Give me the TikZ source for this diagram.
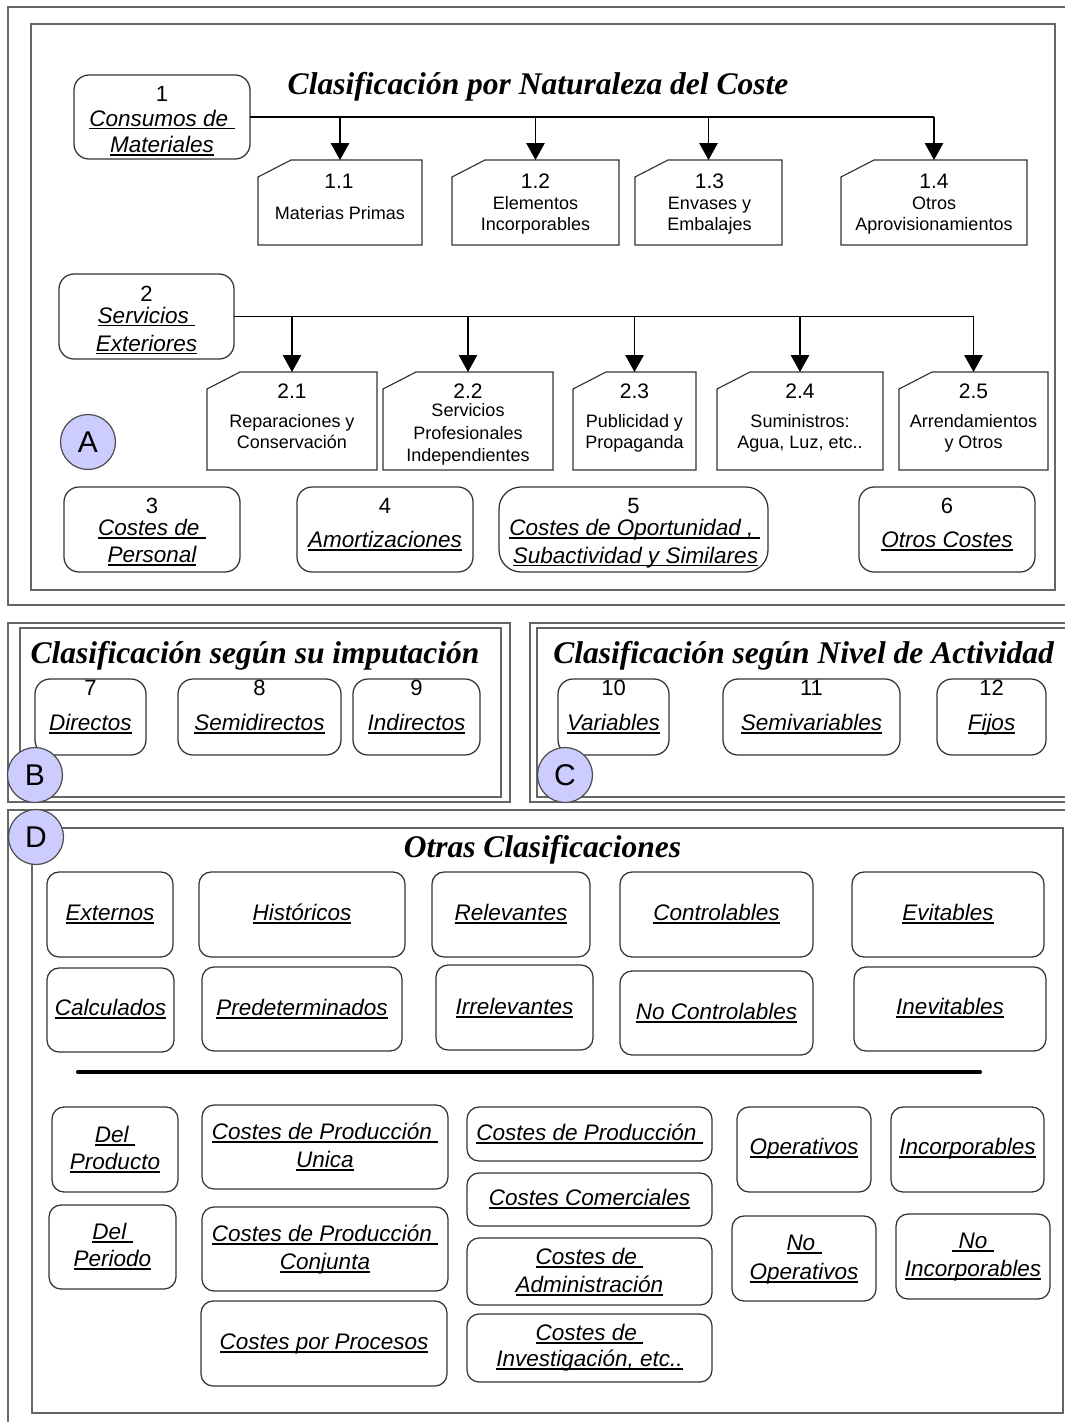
\documentclass[tikz,border=0pt]{standalone}
\usepackage{fontspec}
\setmainfont{Liberation Sans}
\newfontfamily\tnr{Liberation Serif}
\usetikzlibrary{arrows.meta}
\definecolor{lav}{HTML}{CCCCFF}
\newcommand\ulx[1]{\leavevmode\setbox0\hbox{#1}\rlap{\rule[-3.4pt]{\wd0}{1.7pt}}\box0}
% box from corners: style, name, x1, y1, x2, y2
\newcommand\bx[6]{\node[#1, minimum width={#5-#3}, minimum height={#6-#4}] (#2) at ({(#3+#5)/2},{(#4+#6)/2}) {};}
\newcommand\card[5]{\bx{cardn}{#1}{#2}{#3}{#4}{#5}%
  \draw[cardl] (#1.north west) ++(0,17) -- ++(33,-17) -- (#1.north east) -- (#1.south east) -- (#1.south west) -- cycle;}
% text line: style, name, x, baseline y, text
\newcommand\tx[5]{\node[#1, anchor=base] (#2) at (#3,#4) {#5};}
\begin{document}
\begin{tikzpicture}[x=1pt,y=-1pt,
 frm/.style={draw=black!60, line width=1.4pt},
 rb/.style={draw=black!80, line width=1.25pt, rounded corners=15pt, inner sep=0pt, outer sep=0pt},
 rd/.style={rb, rounded corners=12pt},
 cardn/.style={inner sep=0pt, outer sep=0pt},
 cardl/.style={draw=black!80, line width=1.15pt},
 ln/.style={draw=black, line width=1.2pt},
 arr/.style={ln, -{Triangle[width=18.5pt,length=17pt]}},
 lab/.style={font=\fontsize{22.5}{26}\selectfont\itshape, inner sep=0pt},
 num/.style={font=\fontsize{22}{26}\selectfont, inner sep=0pt},
 cnum/.style={font=\fontsize{21}{24}\selectfont, inner sep=0pt},
 desc/.style={font=\fontsize{18}{21}\selectfont, inner sep=0pt},
 ttl/.style={font=\fontsize{31.5}{36}\selectfont\tnr\bfseries\itshape, inner sep=0pt},
 circ/.style={circle, draw=black!70, line width=1.2pt, fill=lav, minimum size=55pt, inner sep=0pt, font=\fontsize{30}{34}\selectfont},
]
\useasboundingbox (0,0) rectangle (1065,1422);
\fill[white] (0,0) rectangle (1065,1422);

% ---------------- Frames
\draw[frm] (8,7) rectangle (1085,605);
\draw[frm] (31,24) rectangle (1055,590);
\draw[frm] (8,623) rectangle (510,802);
\draw[frm] (20,628) rectangle (501,797);
\draw[frm] (530,623) rectangle (1085,802);
\draw[frm] (537,628) rectangle (1085,797);
\draw[frm] (8,810) rectangle (1085,1435);
\draw[frm] (32,828) rectangle (1063,1413);

% ---------------- Section A
\tx{ttl}{tA}{538}{94}{Clasificación por Naturaleza del Coste}
\bx{rb}{b1}{74}{75}{250}{159}
\bx{rb}{b2}{59}{274}{234}{359}
\card{c11}{258}{160}{422}{245}
\card{c12}{452}{160}{619}{245}
\card{c13}{635}{160}{782}{245}
\card{c14}{841}{160}{1027}{245}
\card{c21}{207}{372}{377}{470}
\card{c22}{383}{372}{553}{470}
\card{c23}{573}{372}{696}{470}
\card{c24}{717}{372}{883}{470}
\card{c25}{899}{372}{1048}{470}
\bx{rb}{b3}{64}{487}{240}{572}
\bx{rb}{b4}{297}{487}{473}{572}
\bx{rb,rounded corners=22pt}{b5}{499}{487}{768}{572}
\bx{rb}{b6}{859}{487}{1035}{572}

\draw[ln] (b1.east) -- (b1.east -| c14.north);
\foreach \c in {c11,c12,c13,c14} \draw[arr] (b1.east -| \c.north) -- (\c.north);
\draw[ln] (b2.east) -- (b2.east -| c25.north);
\foreach \c in {c21,c22,c23,c24,c25} \draw[arr] (b2.east -| \c.north) -- (\c.north);

\tx{num}{t1a}{162}{101}{1}
\tx{lab}{t1b}{162}{126}{\ulx{Consumos de\ }}
\tx{lab}{t1c}{162}{152.5}{\ulx{Materiales}}
\tx{num}{t2a}{146.5}{301}{2}
\tx{lab}{t2b}{146.5}{323}{\ulx{Servicios\ }}
\tx{lab}{t2c}{146.5}{351}{\ulx{Exteriores}}

\tx{cnum}{t11a}{339}{188}{1.1}
\tx{desc}{t11b}{340}{219.5}{Materias Primas}
\tx{cnum}{t12a}{535.5}{188}{1.2}
\tx{desc}{t12b}{535.5}{209}{Elementos}
\tx{desc}{t12c}{535.5}{230.5}{Incorporables}
\tx{cnum}{t13a}{709.5}{188}{1.3}
\tx{desc}{t13b}{709.5}{209}{Envases y}
\tx{desc}{t13c}{709.5}{230.5}{Embalajes}
\tx{cnum}{t14a}{934}{188}{1.4}
\tx{desc}{t14b}{934}{209}{Otros}
\tx{desc}{t14c}{934}{230.5}{Aprovisionamientos}

\tx{cnum}{t21a}{292}{398.5}{2.1}
\tx{desc}{t21b}{292}{427.5}{Reparaciones y}
\tx{desc}{t21c}{292}{448.5}{Conservación}
\tx{cnum}{t22a}{468}{398.5}{2.2}
\tx{desc}{t22b}{468}{416.5}{Servicios}
\tx{desc}{t22c}{468}{439.5}{Profesionales}
\tx{desc}{t22d}{468}{461.5}{Independientes}
\tx{cnum}{t23a}{634.5}{398.5}{2.3}
\tx{desc}{t23b}{634.5}{427.5}{Publicidad y}
\tx{desc}{t23c}{634.5}{448.5}{Propaganda}
\tx{cnum}{t24a}{800}{398.5}{2.4}
\tx{desc}{t24b}{800}{427.5}{Suministros:}
\tx{desc}{t24c}{800}{448.5}{Agua, Luz, etc..}
\tx{cnum}{t25a}{973.5}{398.5}{2.5}
\tx{desc}{t25b}{973.5}{427.5}{Arrendamientos}
\tx{desc}{t25c}{973.5}{448.5}{y Otros}

\tx{num}{t3a}{152}{513.5}{3}
\tx{lab}{t3b}{152}{535.5}{\ulx{Costes de\ }}
\tx{lab}{t3c}{152}{562.5}{\ulx{Personal}}
\tx{num}{t4a}{385}{513.5}{4}
\tx{lab}{t4b}{385}{547.5}{\ulx{Amortizaciones}}
\tx{num}{t5a}{633.5}{513.5}{5}
\tx{lab}{t5b}{634.5}{535.5}{\ulx{Costes de Oportunidad ,\ }}
\tx{lab}{t5c}{635.5}{563}{\ulx{Subactividad y Similares}}
\tx{num}{t6a}{947}{513.5}{6}
\tx{lab}{t6b}{947}{547.5}{\ulx{Otros Costes}}

\node[circ] (cA) at (88,442) {A};

% ---------------- Section B
\tx{ttl}{tB}{255}{663}{Clasificación según su imputación}
\bx{rb}{b7}{35}{679}{146}{755}
\bx{rb}{b8}{178}{679}{341}{755}
\bx{rb}{b9}{353}{679}{480}{755}
\tx{num}{t7a}{90.5}{695.5}{7}
\tx{lab}{t7b}{90.5}{730.5}{\ulx{Directos}}
\tx{num}{t8a}{259.5}{695.5}{8}
\tx{lab}{t8b}{259.5}{730.5}{\ulx{Semidirectos}}
\tx{num}{t9a}{416.5}{695.5}{9}
\tx{lab}{t9b}{416.5}{730.5}{\ulx{Indirectos}}
\node[circ] (cB) at (35,775) {B};

% ---------------- Section C
\tx{ttl}{tC}{803.5}{663}{Clasificación según Nivel de Actividad}
\bx{rb}{b10}{558}{679}{669}{755}
\bx{rb}{b11}{723}{679}{900}{755}
\bx{rb}{b12}{937}{679}{1046}{755}
\tx{num}{t10a}{613.5}{695.5}{10}
\tx{lab}{t10b}{613.5}{730.5}{\ulx{Variables}}
\tx{num}{t11xa}{811.5}{695.5}{11}
\tx{lab}{t11xb}{811.5}{730.5}{\ulx{Semivariables}}
\tx{num}{t12xa}{991.5}{695.5}{12}
\tx{lab}{t12xb}{991.5}{730.5}{\ulx{Fijos}}
\node[circ] (cC) at (565,775) {C};

% ---------------- Section D
\tx{ttl}{tD}{542.5}{857}{Otras Clasificaciones}
\bx{rd}{dex}{47}{872}{173}{957}
\bx{rd}{dhi}{199}{872}{405}{957}
\bx{rd}{dre}{432}{872}{590}{957}
\bx{rd}{dco}{620}{872}{813}{957}
\bx{rd}{dev}{852}{872}{1044}{957}
\bx{rd}{dca}{47}{968}{174}{1052}
\bx{rd}{dpr}{202}{967}{402}{1051}
\bx{rd}{dir}{436}{965}{593}{1050}
\bx{rd}{dnc}{620}{971}{813}{1055}
\bx{rd}{din}{854}{967}{1046}{1051}
\tx{lab}{tex}{110}{920.5}{\ulx{Externos}}
\tx{lab}{thi}{302}{920.5}{\ulx{Históricos}}
\tx{lab}{tre}{511}{920.5}{\ulx{Relevantes}}
\tx{lab}{tco}{716.5}{920.5}{\ulx{Controlables}}
\tx{lab}{tev}{948}{920.5}{\ulx{Evitables}}
\tx{lab}{tca}{110.5}{1015.5}{\ulx{Calculados}}
\tx{lab}{tpr}{302}{1015.5}{\ulx{Predeterminados}}
\tx{lab}{tir}{514.5}{1014.5}{\ulx{Irrelevantes}}
\tx{lab}{tnc}{716.5}{1019.5}{\ulx{No Controlables}}
\tx{lab}{tin}{950}{1014.5}{\ulx{Inevitables}}

\coordinate (hl1) at (78,1072);
\coordinate (hl2) at (980,1072);
\draw[line width=4.2pt, line cap=round] (hl1) -- (hl2);

\bx{rd}{ddp}{52}{1107}{178}{1192}
\bx{rd}{ddpe}{49}{1205}{176}{1289}
\bx{rd}{dcpu}{202}{1105}{448}{1189}
\bx{rd}{dcpc}{202}{1207}{448}{1291}
\bx{rd}{dcpp}{201}{1301}{447}{1386}
\bx{rd}{dcp}{467}{1107}{712}{1161}
\bx{rd}{dcc}{467}{1173}{712}{1226}
\bx{rd}{dcad}{467}{1238}{712}{1305}
\bx{rd}{dcin}{467}{1314}{712}{1382}
\bx{rd}{dop}{737}{1107}{871}{1192}
\bx{rd}{dinc}{891}{1107}{1044}{1192}
\bx{rd}{dnop}{732}{1216}{876}{1301}
\bx{rd}{dninc}{896}{1214}{1050}{1299}

\tx{lab}{tdpa}{115}{1142.5}{\ulx{Del\ }}
\tx{lab}{tdpb}{115}{1169.5}{\ulx{Producto}}
\tx{lab}{tdpea}{112.5}{1239.5}{\ulx{Del\ }}
\tx{lab}{tdpeb}{112.5}{1266.5}{\ulx{Periodo}}
\tx{lab}{tcpua}{325}{1139.5}{\ulx{Costes de Producción\ }}
\tx{lab}{tcpub}{325}{1167.5}{\ulx{Unica}}
\tx{lab}{tcpca}{325}{1241.5}{\ulx{Costes de Producción\ }}
\tx{lab}{tcpcb}{325}{1269.5}{\ulx{Conjunta}}
\tx{lab}{tcpp}{324}{1349.5}{\ulx{Costes por Procesos}}
\tx{lab}{tcp}{589.5}{1140.5}{\ulx{Costes de Producción\ }}
\tx{lab}{tcc}{589.5}{1205.5}{\ulx{Costes Comerciales}}
\tx{lab}{tcada}{589.5}{1264.5}{\ulx{Costes de\ }}
\tx{lab}{tcadb}{589.5}{1292.5}{\ulx{Administración}}
\tx{lab}{tcina}{589.5}{1340.5}{\ulx{Costes de\ }}
\tx{lab}{tcinb}{589.5}{1366.5}{\ulx{Investigación, etc..}}
\tx{lab}{top}{804}{1154.5}{\ulx{Operativos}}
\tx{lab}{tinc}{967.5}{1154.5}{\ulx{Incorporables}}
\tx{lab}{tnopa}{804}{1250.5}{\ulx{No\ }}
\tx{lab}{tnopb}{804}{1279.5}{\ulx{Operativos}}
\tx{lab}{tninca}{973}{1248.5}{\ulx{\ No\ }}
\tx{lab}{tnincb}{973}{1276.5}{\ulx{Incorporables}}

\node[circ] (cD) at (36,837) {D};
\end{tikzpicture}
\end{document}
